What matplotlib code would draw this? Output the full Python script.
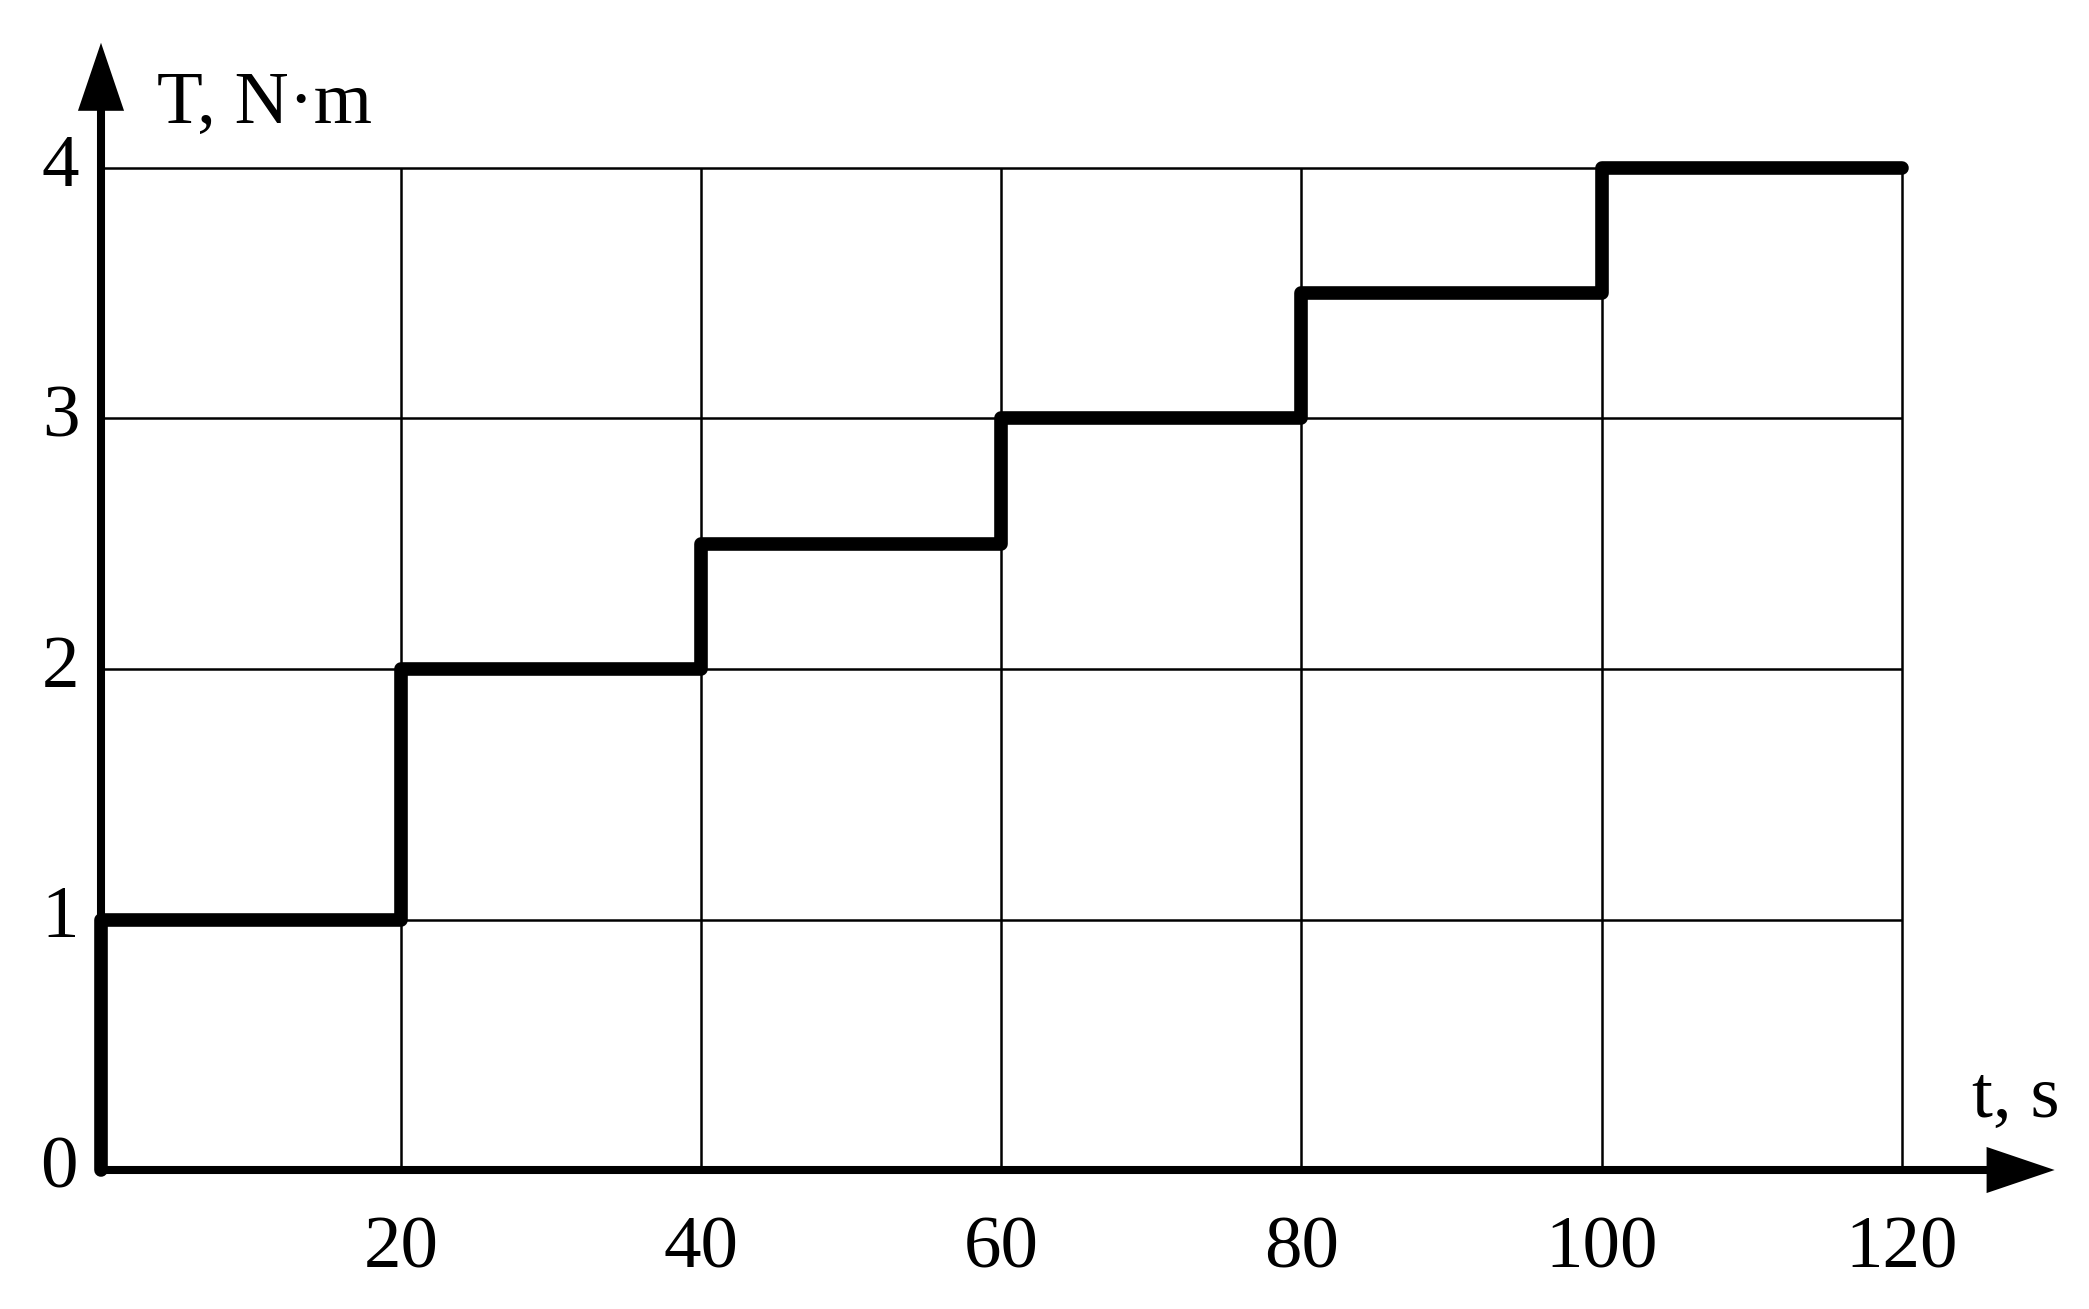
import matplotlib
matplotlib.use("Agg")
import matplotlib.pyplot as plt

# Data
step_t = [0, 0, 20, 20, 40, 40, 60, 60, 80, 80, 100, 100, 120]
step_T = [0, 1, 1, 2, 2, 2.5, 2.5, 3, 3, 3.5, 3.5, 4, 4]
x_ticks = [20, 40, 60, 80, 100, 120]
x_tick_labels = ["20", "40", "60", "80", "100", "120"]
y_ticks = [0, 1, 2, 3, 4]
y_tick_labels = ["0", "1", "2", "3", "4"]
x_label = "t, s"
y_label = "T, N·m"
x_axis_end = 130.2
y_axis_end = 4.5

plt.rcParams['font.family'] = ['Liberation Serif', 'DejaVu Serif']
FS = 54

fig = plt.figure(figsize=(20.89, 13.09), dpi=100)
ax = fig.add_axes([0, 0, 1, 1])
ax.set_xlim(-101 / 15.005, (2089 - 101) / 15.005)
ax.set_ylim((1170 - 1309) / 250.5, 1170 / 250.5)
ax.axis('off')

# grid
ax.vlines(x_ticks, 0, max(y_ticks), color='black', lw=1.8, zorder=1)
ax.hlines(y_ticks[1:], 0, max(x_ticks), color='black', lw=1.8, zorder=1)

# axes lines
ax.plot([0, x_axis_end - 3], [0, 0], color='black', lw=5.8, solid_capstyle='butt', zorder=3)
ax.plot([0, 0], [0, y_axis_end - 0.2], color='black', lw=5.8, solid_capstyle='butt', zorder=3)

# arrowheads
head_kw = dict(arrowstyle='-|>,head_length=2.45,head_width=0.83', color='black',
               lw=0, shrinkA=0, shrinkB=0, mutation_scale=20)
ax.annotate('', xy=(x_axis_end, 0), xytext=(0, 0), arrowprops=head_kw, zorder=3)
ax.annotate('', xy=(0, y_axis_end), xytext=(0, 0), arrowprops=head_kw, zorder=3)

# step line
ax.plot(step_t, step_T, color='black', lw=9.8, solid_joinstyle='round',
        solid_capstyle='round', zorder=4)

# tick labels
for xv, lab in zip(x_ticks, x_tick_labels):
    ax.text(xv, -0.32, lab, ha='center', va='center', fontsize=FS)
for yv, lab in zip(y_ticks, y_tick_labels):
    xoff = -1.55 if yv == 0 else -1.45
    ax.text(xoff, yv, lab, ha='right', va='center', fontsize=FS)

# axis labels
ax.text(3.75, 4.18, y_label, ha='left', va='baseline', fontsize=FS)
ax.text(124.7, 0.21, x_label, ha='left', va='baseline', fontsize=FS)

fig.savefig('out.png', dpi=100)
